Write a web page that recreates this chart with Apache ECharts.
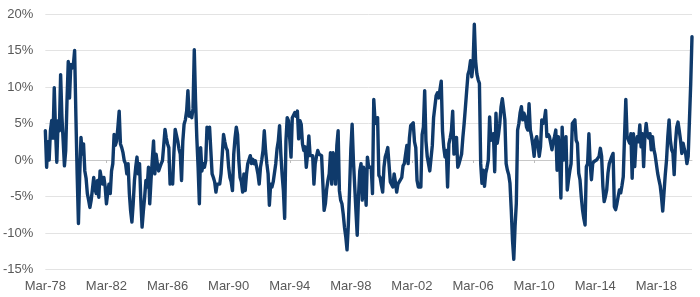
<!DOCTYPE html>
<html>
<head>
<meta charset="utf-8">
<script src="https://cdn.jsdelivr.net/npm/echarts@6/dist/echarts.min.js"></script>
<style>
html,body{margin:0;padding:0;background:#fff;}
#chart{width:700px;height:297px;}
</style>
</head>
<body>
<div id="chart"></div>
<script>
// Monthly values (%) starting Mar-78
const values = [
4.0,-1.0,2.5,0.0,4.0,5.4,3.0,9.9,4.0,-0.3,5.4,4.0,11.7,6.0,2.6,-0.8,1.3,8.0,13.5,8.5,
13.1,12.6,13.0,15.0,6.0,-2.0,-8.7,-2.0,3.1,0.8,2.2,-1.5,-2.5,-4.6,-5.5,-6.5,-5.5,-4.0,-2.4,-4.0,
-4.6,-2.8,-5.1,-1.5,-2.5,-3.3,-2.4,-3.7,-6.0,-4.5,-3.3,-4.6,-1.5,-0.5,3.5,2.0,2.6,4.5,6.7,2.2,
1.7,1.0,-0.1,-0.5,-1.9,-0.5,-4.6,-7.0,-8.5,-6.0,-2.8,-1.0,0.4,-1.9,-0.5,-5.5,-9.2,-7.0,-5.1,-2.8,
-3.7,-1.0,-6.0,-2.8,0.0,2.6,-1.9,0.8,-0.5,-1.5,-1.0,-0.5,-0.1,2.0,4.2,3.0,2.2,1.7,-3.3,-2.0,
-3.3,1.0,4.2,4.2,2.6,1.5,0.8,-2.8,2.6,4.9,5.5,6.7,9.5,6.0,6.5,5.8,7.0,15.1,8.1,3.0,
-1.0,-6.0,1.7,-1.5,-0.5,-1.0,-0.1,4.5,3.0,4.5,1.3,-1.9,-2.4,-3.0,-4.4,-3.3,-3.5,-3.3,-1.9,0.8,
3.5,2.5,1.7,1.3,-1.0,-2.4,-3.0,-4.2,0.8,3.0,4.5,3.5,-0.1,-2.4,-3.0,-4.4,-1.9,-4.2,-2.0,-0.5,
-0.5,0.6,-0.5,0.1,-0.5,-0.1,-1.0,-1.9,-3.3,-1.0,0.0,1.3,4.0,1.3,-0.5,-1.9,-6.2,-3.3,-3.7,-3.0,
-2.8,-0.5,1.5,2.6,4.7,0.8,-2.0,-4.2,-8.0,2.6,5.8,5.4,5.4,0.4,5.8,6.0,6.5,6.0,6.7,2.9,
5.4,4.9,2.2,1.3,1.8,-1.0,0.8,3.3,0.6,0.6,0.6,-3.3,-0.5,0.5,1.3,0.8,0.6,0.6,0.8,-6.9,
-6.0,-4.0,-2.8,-1.9,1.0,-3.3,1.0,0.5,-3.3,2.0,4.0,-4.2,-5.5,-6.0,-7.4,-9.2,-10.5,-12.3,-9.0,-4.0,
1.5,4.9,0.0,-3.5,-7.0,-10.3,-5.0,-1.5,-0.5,-5.5,-1.0,-3.0,-6.2,0.4,-1.0,-1.0,-1.0,-4.6,8.3,5.4,
5.0,5.8,-2.1,-2.4,-3.5,-4.4,-1.0,0.4,1.0,1.7,1.7,-3.0,-2.8,-3.7,-1.9,-3.0,-4.4,-3.3,-3.0,-2.8,
-2.4,-0.8,-0.5,0.8,2.0,-0.5,3.0,4.7,4.9,5.1,2.5,1.7,-2.8,-3.7,-3.5,-3.7,3.5,4.5,9.5,2.6,
0.5,-0.5,-1.5,-1.5,2.0,5.8,6.0,8.8,9.2,8.5,8.5,10.8,4.0,1.7,0.4,1.3,-3.7,2.2,3.0,4.0,
6.7,0.8,2.0,3.1,-1.0,-0.5,-0.5,0.8,3.1,5.0,7.2,9.5,11.7,12.3,13.6,11.4,13.0,18.6,13.6,11.8,
11.0,10.5,-0.5,-3.2,-1.4,-3.6,-1.8,-1.0,0.0,5.9,2.7,3.0,3.6,-1.6,6.4,2.3,3.5,5.0,7.3,8.4,
7.0,5.5,-0.5,-1.4,-2.0,-3.2,-6.8,-11.0,-13.6,-9.1,-5.9,4.1,5.0,6.5,7.3,5.5,6.4,5.9,4.5,4.1,
7.7,4.1,3.2,2.0,0.5,2.7,3.2,2.0,0.5,1.8,5.5,5.0,5.5,6.8,3.2,3.5,3.2,2.3,1.4,2.5,
3.2,4.1,-1.4,3.2,0.5,-5.2,4.5,0.0,2.0,3.2,-4.1,-2.7,-1.5,-0.5,5.0,5.0,5.5,2.7,2.3,-1.8,
-2.7,-5.0,-6.8,-8.0,-8.9,-0.9,-0.5,3.6,-0.5,-2.7,-0.5,-0.2,-0.2,0.0,0.0,0.5,1.6,0.5,-3.6,-5.7,
-5.0,-4.1,-1.8,-0.5,0.0,0.5,0.9,-6.4,-6.8,-6.0,-5.0,-4.1,-4.5,-3.5,-2.3,3.2,8.3,3.2,3.2,2.3,
3.6,-2.5,3.6,-0.9,2.3,3.2,2.5,4.8,1.8,3.6,-0.9,3.2,5.0,3.4,3.0,3.6,1.4,3.2,1.5,0.7,
0.5,-1.8,-2.7,-3.5,-5.0,-7.0,-4.5,-2.0,0.0,3.2,5.5,2.7,1.4,1.0,-2.0,2.3,4.5,5.2,4.0,2.7,
0.9,2.3,1.5,0.9,-0.5,0.5,0.5,10.5,16.9
];

const monthNames = ['Jan','Feb','Mar','Apr','May','Jun','Jul','Aug','Sep','Oct','Nov','Dec'];
const startYear = 1978;
const startMonth = 2; // March
const categories = values.map(function (_, i) {
  const mi = startMonth + i;
  const y = startYear + Math.floor(mi / 12);
  return monthNames[mi % 12] + '-' + String(y % 100).padStart(2, '0');
});

const tickLabels = ['Mar-78','Mar-82','Mar-86','Mar-90','Mar-94','Mar-98','Mar-02','Mar-06','Mar-10','Mar-14','Mar-18'];
const yTicks = [-15, -10, -5, 0, 5, 10, 15, 20];

const chart = echarts.init(document.getElementById('chart'), null, {renderer: 'canvas'});
const isTick = function (idx, val) { return tickLabels.indexOf(val) >= 0; };
const fontFam = '"Liberation Sans", Arial, Helvetica, sans-serif';

chart.setOption({
  animation: false,
  backgroundColor: '#ffffff',
  grid: {left: 42, right: 8, top: 14, bottom: 27.5, containLabel: false},
  xAxis: [
    {
      type: 'category',
      data: categories,
      boundaryGap: false,
      position: 'bottom',
      axisLine: {show: false, onZero: false},
      axisTick: {show: false},
      splitLine: {show: false},
      axisLabel: {
        interval: isTick,
        color: '#595959',
        fontSize: 13,
        fontFamily: fontFam,
        margin: 10
      }
    },
    {
      type: 'category',
      data: categories,
      boundaryGap: false,
      position: 'top',
      axisLine: {show: true, onZero: true, lineStyle: {color: '#c8c8c8', width: 1}},
      axisTick: {show: true, inside: true, length: 3, interval: isTick, lineStyle: {color: '#bdbdbd'}},
      axisLabel: {show: false},
      splitLine: {show: false}
    }
  ],
  yAxis: {
    type: 'value',
    min: yTicks[0],
    max: yTicks[yTicks.length - 1],
    interval: 5,
    axisLine: {show: false},
    axisTick: {show: false},
    splitLine: {show: true, lineStyle: {color: '#e3e3e3', width: 1}},
    axisLabel: {
      formatter: '{value}%',
      color: '#595959',
      fontSize: 13,
      fontFamily: fontFam,
      margin: 12
    }
  },
  series: [{
    type: 'line',
    data: values,
    xAxisIndex: 0,
    showSymbol: false,
    symbol: 'none',
    lineStyle: {color: '#0f3a6b', width: 3.4, join: 'round', cap: 'round'},
    z: 5
  }]
});
</script>
</body>
</html>
